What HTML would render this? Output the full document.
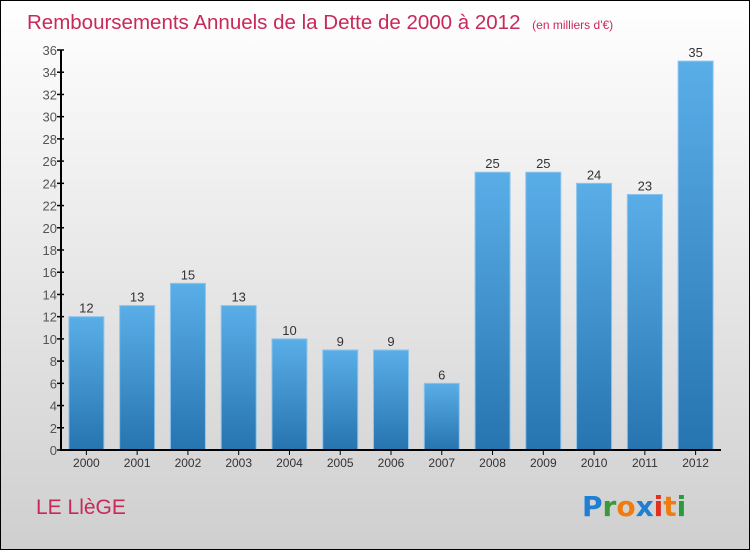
<!DOCTYPE html>
<html><head><meta charset="utf-8"><style>
body{margin:0;width:750px;height:550px;overflow:hidden;font-family:"Liberation Sans",sans-serif}
</style></head><body>
<svg id="chart" width="750" height="550" xmlns="http://www.w3.org/2000/svg">
<defs>
<linearGradient id="bg" x1="0" y1="0" x2="0" y2="1"><stop offset="0" stop-color="#ffffff"/><stop offset="1" stop-color="#cfcfcf"/></linearGradient>
<linearGradient id="bar" x1="0" y1="0" x2="0" y2="1"><stop offset="0" stop-color="#5aaee8"/><stop offset="1" stop-color="#2674b0"/></linearGradient>
</defs>
<rect x="0.5" y="0.5" width="749" height="549" fill="url(#bg)" stroke="#000"/>
<text x="27" y="29" font-size="20.5" fill="#c8285a">Remboursements Annuels de la Dette de 2000 à 2012 <tspan font-size="12" dx="6">(en milliers d'€)</tspan></text>
<g id="yaxis"></g><g id="bars"></g><g id="xaxis"></g>
<line x1="61" y1="50" x2="61" y2="450" stroke="#000" stroke-width="2"/>
<line x1="60" y1="450" x2="721" y2="450" stroke="#000" stroke-width="2"/>
<text x="36" y="514" font-size="21" fill="#c8285a">LE LlèGE</text>
<text x="582" y="516" font-size="28" font-weight="bold" font-family="'DejaVu Sans',sans-serif"><tspan fill="#1e7fd4">P</tspan><tspan fill="#3a9a3a">r</tspan><tspan fill="#f07c10">o</tspan><tspan fill="#1e7fd4">x</tspan><tspan fill="#e03020">i</tspan><tspan fill="#f07c10">t</tspan><tspan fill="#2a9a40">i</tspan></text>
</svg>
<script>
const years=["2000","2001","2002","2003","2004","2005","2006","2007","2008","2009","2010","2011","2012"];
const values=[12,13,15,13,10,9,9,6,25,25,24,23,35];
const yTicks=[0,2,4,6,8,10,12,14,16,18,20,22,24,26,28,30,32,34,36];
const NS="http://www.w3.org/2000/svg";
const x0=61,x1=721,yBase=450,yTop=50,yMax=36;
const band=(x1-x0)/years.length;
const y=v=>yBase-(v/yMax)*(yBase-yTop);
const xc=i=>x0+band*(i+0.5);
function mk(tag,attrs,parent,text){const e=document.createElementNS(NS,tag);for(const k in attrs)e.setAttribute(k,attrs[k]);if(text!==undefined)e.textContent=text;parent.appendChild(e);return e;}
const ya=document.getElementById('yaxis'),bg=document.getElementById('bars'),xa=document.getElementById('xaxis');
yTicks.forEach(t=>{
 const l=mk('line',{x1:57,x2:64,y1:y(t),y2:y(t),stroke:'#000','stroke-width':1.5},ya);
 
 
 const tx=mk('text',{x:57,y:y(t)+5,'text-anchor':'end','font-size':13,fill:'#555'},ya,t);
 
 
});
values.forEach((v,i)=>{
 const w=35,cx=xc(i);
 const r=mk('rect',{x:cx-w/2,y:y(v),width:w,height:yBase-y(v),fill:'url(#bar)',stroke:'#8ec4ec','stroke-width':1},bg);
 
 
 const lb=mk('text',{x:cx,y:y(v)-4,'text-anchor':'middle','font-size':13,fill:'#333'},bg,v);
 
 
 const tk=mk('line',{x1:cx,x2:cx,y1:450,y2:455,stroke:'#000'},xa);
 
 
 const xl=mk('text',{x:cx,y:467,'text-anchor':'middle','font-size':12,fill:'#333'},xa,years[i]);
 
 
});
</script>
</body></html>
